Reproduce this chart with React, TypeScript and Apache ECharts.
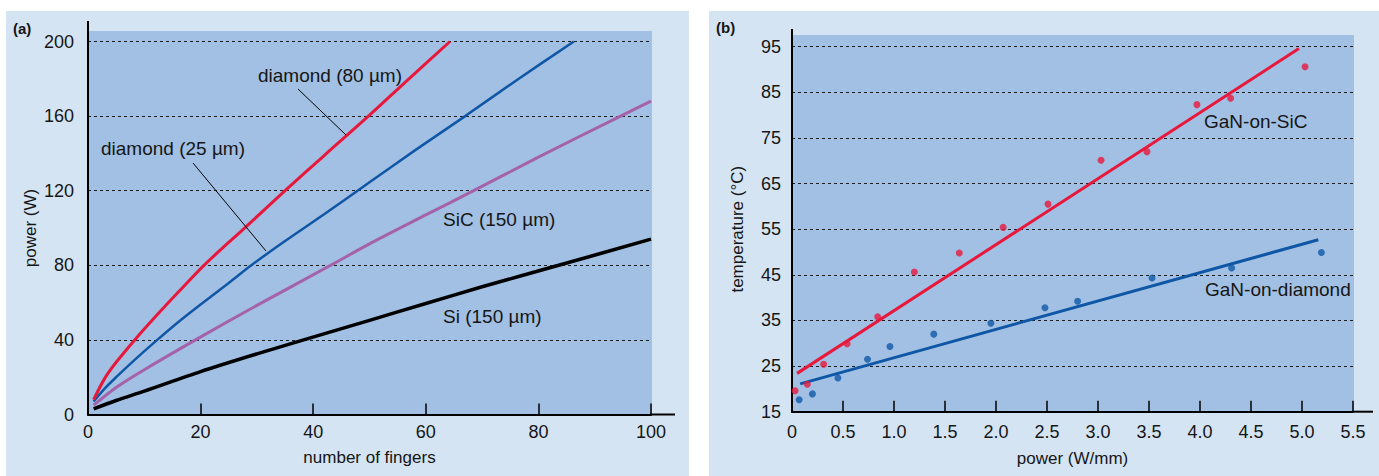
import React, { useEffect, useRef } from "react";
import * as echarts from "echarts";

// ---- Panel (a): power vs number of fingers ----
const fingersDia80 = [1, 3, 5, 8.3, 12, 16, 20.6, 28, 35, 42, 50, 57, 64.3];
const powerDia80 = [8, 19.5, 28, 40, 52.5, 65.5, 80, 100.5, 120, 139, 160.5, 180, 200];

const fingersDia25 = [1, 3, 5, 8, 12.3, 16, 20, 25, 29, 35, 42, 50, 58, 67, 76, 86.3];
const powerDia25 = [7, 14, 20, 28.5, 40, 49.5, 59, 70.5, 80, 93, 107.5, 124.5, 141.5, 160, 179, 200];

const fingersSiC = [1, 5, 10, 19.1, 30, 43.1, 50, 60, 68.5, 80, 94.6, 100];
const powerSiC = [5, 14.5, 24, 40, 58.5, 80, 91.5, 107, 120, 138, 160, 168];

const fingersSi = [1, 5, 10, 20, 30, 38.3, 50, 60, 70, 83.6, 100];
const powerSi = [3, 7.5, 12.5, 23, 32.5, 40, 50.5, 59.5, 68.5, 80, 94];

// ---- Panel (b): temperature vs power density ----
const sicPower = [0.03, 0.15, 0.31, 0.54, 0.84, 1.2, 1.64, 2.07, 2.51, 3.03, 3.48, 3.97, 4.3, 5.03];
const sicTemp = [19.6, 21.0, 25.4, 29.9, 35.8, 45.6, 49.8, 55.4, 60.5, 70.1, 72.0, 82.3, 83.7, 90.6];
const diaPower = [0.07, 0.2, 0.45, 0.74, 0.96, 1.39, 1.95, 2.48, 2.8, 3.53, 4.31, 5.19];
const diaTemp = [17.6, 18.9, 22.4, 26.5, 29.3, 32.0, 34.4, 37.8, 39.2, 44.3, 46.5, 49.9];
const sicFitPower = [0.05, 4.97];
const sicFitTemp = [23.4, 94.6];
const diaFitPower = [0.08, 5.16];
const diaFitTemp = [21.1, 52.7];

const RED = "#e8183c";
const BLUE = "#0f57a6";
const PURPLE = "#a562ab";
const BLACK = "#000000";
const LIGHT = "#d4e4f3";
const DARK = "#a1c0e3";
const FONT = "'Liberation Sans', Arial, sans-serif";
const TXT = "#161616";

const zip = (xs: number[], ys: number[]) => xs.map((x, i) => [x, ys[i]]);

export default function App() {
  const ref = useRef<HTMLDivElement>(null);
  useEffect(() => {
    if (!ref.current) return;
    const chart = echarts.init(ref.current, null, { renderer: "svg" });

    const axisLine = { show: true, lineStyle: { color: "#000", width: 2 } };
    const tickInside = { show: true, inside: true, length: 11, lineStyle: { color: "#000", width: 1.5 } };
    const label = (margin: number, extra: any = {}) => ({
      color: TXT,
      fontSize: 18,
      fontFamily: FONT,
      margin,
      ...extra,
    });
    const split = { show: true, lineStyle: { color: "#1e1e1e", type: [3, 3], width: 1 } };
    const nameStyle = { color: TXT, fontSize: 17, fontFamily: FONT };

    const lineSeries = (xs: number[], ys: number[], color: string, width: number) => ({
      type: "line",
      xAxisIndex: 0,
      yAxisIndex: 0,
      data: zip(xs, ys),
      showSymbol: false,
      smooth: 0.3,
      lineStyle: { color, width },
      z: 3,
    });

    const annText = (text: string, x: number, y: number) => ({
      type: "text",
      x,
      y,
      z: 100,
      style: { text, fill: TXT, font: `19px ${FONT}`, verticalAlign: "middle", textAlign: "left" },
    });
    const leader = (x1: number, y1: number, x2: number, y2: number) => ({
      type: "line",
      z: 100,
      shape: { x1, y1, x2, y2 },
      style: { stroke: "#000", lineWidth: 1 },
    });

    const option: any = {
      animation: false,
      backgroundColor: "#ffffff",
      grid: [
        { left: 88, top: 41.5, width: 563, height: 373, containLabel: false },
        { left: 792, top: 46.7, width: 561, height: 365, containLabel: false },
      ],
      xAxis: [
        {
          gridIndex: 0,
          type: "value",
          min: 0,
          max: 100,
          interval: 20,
          axisLine,
          axisTick: tickInside,
          axisLabel: label(8),
          splitLine: { show: false },
          name: "number of fingers",
          nameLocation: "middle",
          nameGap: 34,
          nameTextStyle: nameStyle,
        },
        {
          gridIndex: 1,
          type: "value",
          min: 0,
          max: 5.5,
          interval: 0.5,
          axisLine,
          axisTick: tickInside,
          axisLabel: label(11, { formatter: (v: number) => (v === 0 ? "0" : v.toFixed(1)) }),
          splitLine: { show: false },
          name: "power (W/mm)",
          nameLocation: "middle",
          nameGap: 38,
          nameTextStyle: nameStyle,
        },
      ],
      yAxis: [
        {
          gridIndex: 0,
          type: "value",
          min: 0,
          max: 200,
          interval: 40,
          axisLine,
          axisTick: { show: false },
          axisLabel: label(14),
          splitLine: split,
          name: "power (W)",
          nameLocation: "middle",
          nameGap: 49,
          nameRotate: 90,
          nameTextStyle: nameStyle,
        },
        {
          gridIndex: 1,
          type: "value",
          min: 15,
          max: 95,
          interval: 10,
          axisLine,
          axisTick: { show: false },
          axisLabel: label(11),
          splitLine: split,
          name: "temperature (°C)",
          nameLocation: "middle",
          nameGap: 46,
          nameRotate: 90,
          nameTextStyle: nameStyle,
        },
      ],
      series: [
        lineSeries(fingersSi, powerSi, BLACK, 3.5),
        lineSeries(fingersSiC, powerSiC, PURPLE, 3),
        lineSeries(fingersDia25, powerDia25, BLUE, 2.5),
        lineSeries(fingersDia80, powerDia80, RED, 3),
        {
          type: "line",
          xAxisIndex: 1,
          yAxisIndex: 1,
          data: zip(diaFitPower, diaFitTemp),
          showSymbol: false,
          lineStyle: { color: BLUE, width: 3 },
          z: 3,
        },
        {
          type: "line",
          xAxisIndex: 1,
          yAxisIndex: 1,
          data: zip(sicFitPower, sicFitTemp),
          showSymbol: false,
          lineStyle: { color: RED, width: 3 },
          z: 3,
        },
        {
          type: "scatter",
          xAxisIndex: 1,
          yAxisIndex: 1,
          data: zip(diaPower, diaTemp),
          symbolSize: 7,
          itemStyle: { color: BLUE },
          z: 4,
        },
        {
          type: "scatter",
          xAxisIndex: 1,
          yAxisIndex: 1,
          data: zip(sicPower, sicTemp),
          symbolSize: 7,
          itemStyle: { color: RED },
          z: 4,
        },
      ],
      graphic: [
        { type: "rect", z: -100, shape: { x: 6, y: 11, width: 683, height: 465 }, style: { fill: LIGHT } },
        { type: "rect", z: -100, shape: { x: 709, y: 11, width: 670, height: 465 }, style: { fill: LIGHT } },
        { type: "rect", z: -99, shape: { x: 88, y: 31, width: 564, height: 383.5 }, style: { fill: DARK } },
        { type: "rect", z: -99, shape: { x: 792, y: 35, width: 562, height: 376.7 }, style: { fill: DARK } },
        // axis-line extensions beyond the data range
        { type: "line", z: 50, shape: { x1: 88, y1: 21, x2: 88, y2: 42 }, style: { stroke: "#000", lineWidth: 2 } },
        { type: "line", z: 50, shape: { x1: 650, y1: 414.5, x2: 675, y2: 414.5 }, style: { stroke: "#000", lineWidth: 2 } },
        { type: "line", z: 50, shape: { x1: 792, y1: 29, x2: 792, y2: 47 }, style: { stroke: "#000", lineWidth: 2 } },
        { type: "line", z: 50, shape: { x1: 1352, y1: 411.7, x2: 1373, y2: 411.7 }, style: { stroke: "#000", lineWidth: 2 } },
        // panel tags
        {
          type: "text", x: 13, y: 28, z: 100,
          style: { text: "(a)", fill: TXT, font: `bold 15px ${FONT}`, verticalAlign: "middle" },
        },
        {
          type: "text", x: 716, y: 27, z: 100,
          style: { text: "(b)", fill: TXT, font: `bold 15px ${FONT}`, verticalAlign: "middle" },
        },
        annText("diamond (80 µm)", 258, 75),
        annText("diamond (25 µm)", 101, 148),
        annText("SiC (150 µm)", 443, 219),
        annText("Si (150 µm)", 443, 316),
        annText("GaN-on-SiC", 1204, 121),
        annText("GaN-on-diamond", 1205, 289),
        leader(298, 89, 346, 135),
        leader(193, 163, 266, 251),
      ],
    };

    chart.setOption(option);
    return () => chart.dispose();
  }, []);

  return (
    <div
      ref={ref}
      style={{ position: "absolute", left: 0, top: 0, width: 1379, height: 476, background: "#fff" }}
    />
  );
}
